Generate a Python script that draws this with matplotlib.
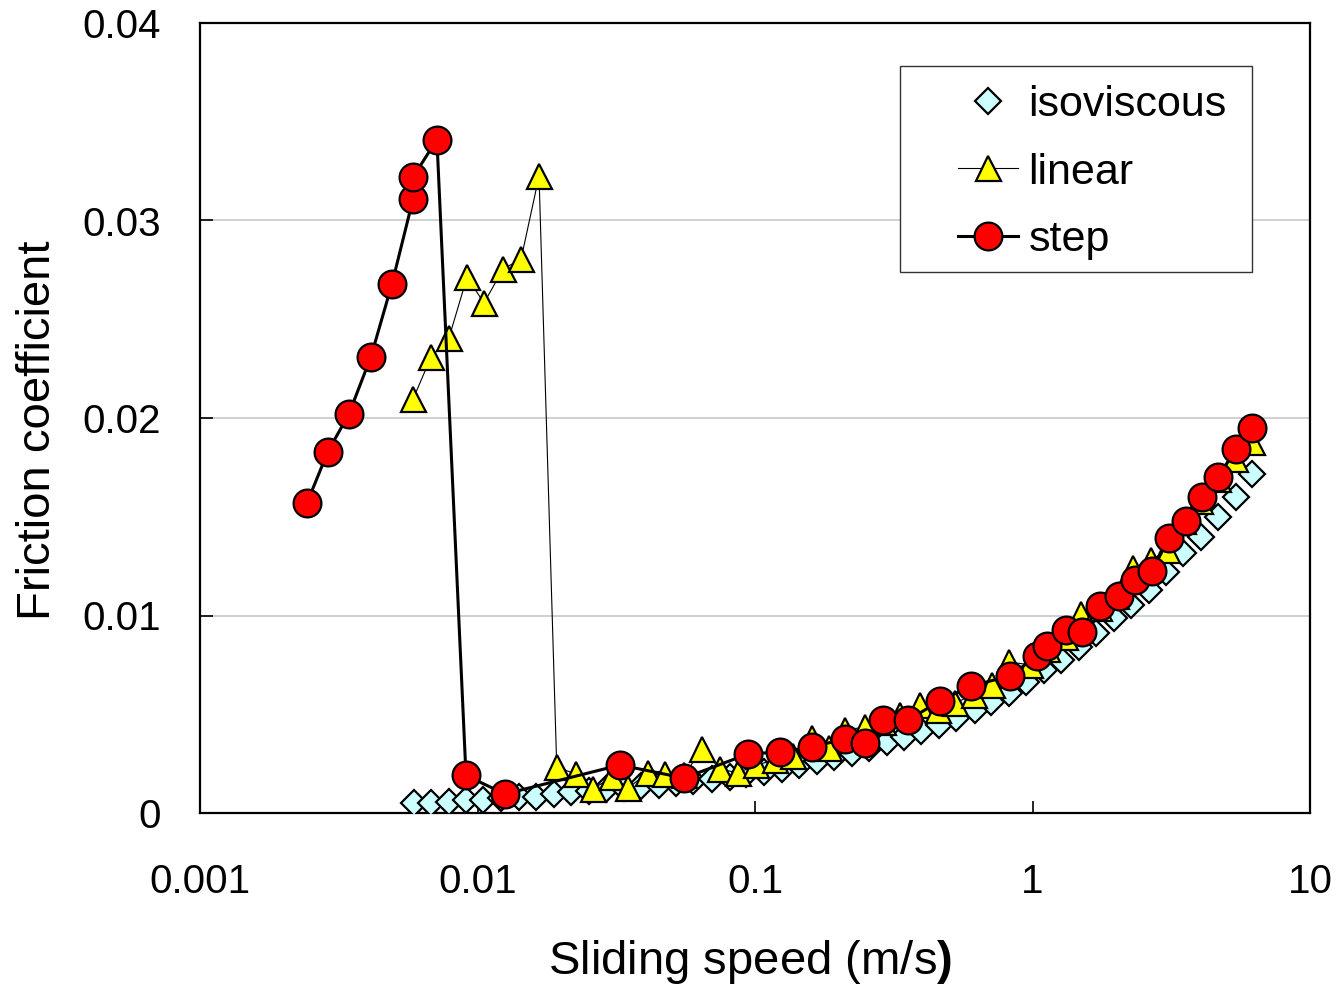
import matplotlib
matplotlib.use("Agg")
import matplotlib.pyplot as plt
from matplotlib.patches import Rectangle
from matplotlib import ticker

plt.rcParams["font.family"] = ["Liberation Sans", "DejaVu Sans"]
plt.rcParams["mathtext.fontset"] = "custom"
plt.rcParams["mathtext.rm"] = "Liberation Sans"
plt.rcParams["mathtext.bf"] = "Liberation Sans:bold"

# isoviscous (diamonds, no line)
iso_speed = [0.0059, 0.0068, 0.0079, 0.0091, 0.0105, 0.0122, 0.0141, 0.0163, 0.0188,
             0.0218, 0.0252, 0.0291, 0.0337, 0.0389, 0.045, 0.052, 0.060, 0.070,
             0.081, 0.093, 0.108, 0.125, 0.144, 0.167, 0.193, 0.223, 0.258, 0.298,
             0.345, 0.398, 0.46, 0.53, 0.62, 0.71, 0.82, 0.95, 1.10, 1.27, 1.47,
             1.70, 1.96, 2.27, 2.62, 3.03, 3.50, 4.05, 4.68, 5.41, 6.20]
iso_mu = [0.00050, 0.00050, 0.00056, 0.00064, 0.00068, 0.00075, 0.00081, 0.00083, 0.00096,
          0.00106, 0.00112, 0.00120, 0.00127, 0.00135, 0.00142, 0.00150, 0.00160, 0.00172,
          0.00182, 0.00195, 0.00210, 0.00225, 0.00243, 0.00262, 0.00284, 0.00305, 0.00330,
          0.00358, 0.00385, 0.00415, 0.00446, 0.00480, 0.00520, 0.00560, 0.00610, 0.00665,
          0.00724, 0.00775, 0.00840, 0.00911, 0.00987, 0.01053, 0.01129, 0.01220, 0.01316,
          0.01397, 0.01499, 0.01600, 0.01716]

# linear (triangles, thin line)
lin_speed = [0.00586, 0.0068, 0.00789, 0.00917, 0.01055, 0.01236, 0.01436, 0.01666,
             0.0193, 0.0226, 0.0261, 0.0305, 0.0349, 0.0411, 0.0474, 0.0555, 0.0644,
             0.0748, 0.0868, 0.101, 0.118, 0.137, 0.1605, 0.1848, 0.211, 0.249, 0.289,
             0.333, 0.393, 0.455, 0.526, 0.615, 0.715, 0.823, 0.98, 1.128, 1.31, 1.49,
             1.73, 2.0, 2.3, 2.67, 3.06, 3.5, 4.0, 4.66, 5.35, 6.18]
lin_mu = [0.02096, 0.02309, 0.02405, 0.02714, 0.02582, 0.02754, 0.02805, 0.03225,
          0.00233, 0.00197, 0.00122, 0.00182, 0.00127, 0.00203, 0.00197, 0.0019, 0.00324,
          0.00223, 0.00203, 0.00243, 0.00268, 0.0029, 0.0038, 0.00329, 0.0042, 0.00435,
          0.0046, 0.00496, 0.00547, 0.0052, 0.00557, 0.0060, 0.00648, 0.00765, 0.0075,
          0.0083, 0.0089, 0.0101, 0.0104, 0.0110, 0.0124, 0.0128, 0.0133, 0.0148, 0.0158,
          0.0169, 0.0179, 0.0188]

# step (circles, thick line)
step_speed = [0.00243, 0.00289, 0.00344, 0.00413, 0.00492, 0.00586, 0.00586, 0.00714,
              0.00909, 0.01256, 0.0326, 0.0555, 0.0944, 0.123, 0.160, 0.211, 0.249,
              0.289, 0.356, 0.464, 0.600, 0.829, 1.038, 1.128, 1.32, 1.51, 1.75, 2.05,
              2.34, 2.70, 3.10, 3.57, 4.08, 4.66, 5.41, 6.18]
step_mu = [0.0157, 0.0183, 0.0202, 0.0231, 0.0268, 0.0311, 0.0322, 0.0341, 0.0019,
           0.00096, 0.00243, 0.00177, 0.00299, 0.00309, 0.00334, 0.00375, 0.00354,
           0.00471, 0.00471, 0.00567, 0.00643, 0.00694, 0.00795, 0.00846, 0.00927,
           0.00916, 0.01048, 0.01099, 0.0118, 0.01225, 0.01392, 0.01478, 0.0160,
           0.0170, 0.01843, 0.01949]

x_ticks = [0.001, 0.01, 0.1, 1, 10]
x_tick_labels = ["0.001", "0.01", "0.1", "1", "10"]
y_ticks = [0, 0.01, 0.02, 0.03, 0.04]
y_tick_labels = ["0", "0.01", "0.02", "0.03", "0.04"]

fig = plt.figure(figsize=(13.4, 9.88), dpi=100)
ax = fig.add_axes([200 / 1340, 175 / 988, 1110 / 1340, 790 / 988])

ax.plot(iso_speed, iso_mu, linestyle="none", marker="D", markersize=13,
        markerfacecolor="#ccffff", markeredgecolor="black", markeredgewidth=1.6,
        zorder=3, label="isoviscous")
ax.plot(lin_speed, lin_mu, color="black", linewidth=0.8, marker="^", markersize=18,
        markerfacecolor="#ffff00", markeredgecolor="black", markeredgewidth=1.6,
        zorder=4, label="linear")
ax.plot(step_speed, step_mu, color="black", linewidth=2.2, marker="o", markersize=20,
        markerfacecolor="#ff0000", markeredgecolor="black", markeredgewidth=1.6,
        zorder=5, label="step")

ax.set_xscale("log")
ax.set_xlim(0.001, 10)
ax.set_ylim(0, 0.04)
ax.set_xticks(x_ticks)
ax.set_xticklabels(x_tick_labels)
ax.xaxis.set_minor_locator(ticker.NullLocator())
ax.set_yticks(y_ticks)
ax.set_yticklabels(y_tick_labels)

ax.tick_params(axis="both", direction="in", labelsize=29, width=1.2, color="black")
ax.tick_params(axis="x", length=9, pad=36, top=False)
ax.tick_params(axis="y", length=9, pad=28, right=False)

ax.yaxis.grid(True, color="#c8c8c8", linewidth=1.2)
ax.set_axisbelow(True)
for spine in ax.spines.values():
    spine.set_linewidth(1.6)
    spine.set_color("black")

ax.set_xlabel(r"Sliding speed (m/s$\mathbf{)}$", fontsize=34)
ax.xaxis.set_label_coords(0.4955, -0.158)
ax.xaxis.label.set_va("top")
ax.set_ylabel("Friction coefficient", fontsize=34)
ax.yaxis.set_label_coords(-0.126, 0.485)

# legend box drawn separately so its padding matches
ax.add_patch(Rectangle((0.6306, 0.6848), 0.3171, 0.2608, transform=ax.transAxes,
                       facecolor="white", edgecolor="#333333", linewidth=1.0, zorder=6))
leg = ax.legend(loc="upper left", bbox_to_anchor=(0.6825, 0.921), frameon=False,
                fontsize=31, handlelength=1.4, handletextpad=0.25, labelspacing=0.63,
                borderpad=0, borderaxespad=0)
leg.set_zorder(7)

fig.savefig("out.png", dpi=100, facecolor="white")
